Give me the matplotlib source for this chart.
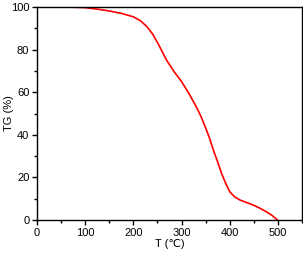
import matplotlib.pyplot as plt
from matplotlib.ticker import MultipleLocator

plt.rcParams['font.family'] = ['Liberation Sans', 'DejaVu Sans']

temp = [48, 75, 100, 125, 151, 175, 200, 215, 228, 240, 252, 269, 285, 300, 315, 331, 340, 349,
        358, 366, 375, 383, 392, 400, 410, 421, 435, 449, 462, 476, 488, 499]
tg = [100, 99.9, 99.7, 99.0, 98.1, 97.0, 95.4, 93.5, 90.8, 87.3, 82.5, 75, 69.5, 65, 59.5, 53,
      48.8, 43.8, 38.5, 32.9, 27.2, 21.9, 17, 13.3, 10.9, 9.4, 8.2, 7, 5.6, 3.9, 2.1, 0]

fig = plt.figure(figsize=(3.03, 2.54), dpi=100)
ax = fig.add_axes([37 / 303, 34 / 254, 265 / 303, 213 / 254])
ax.plot(temp, tg, color='red', lw=1.2)

ax.set_xlim(0, 550)
ax.set_ylim(0, 100)
ax.xaxis.set_major_locator(MultipleLocator(100))
ax.xaxis.set_minor_locator(MultipleLocator(50))
ax.yaxis.set_major_locator(MultipleLocator(20))
ax.yaxis.set_minor_locator(MultipleLocator(10))
ax.tick_params(which='both', direction='out', labelsize=8, width=1)
ax.tick_params(which='major', length=3.5, pad=2)
ax.tick_params(which='minor', length=2)
for s in ax.spines.values():
    s.set_linewidth(1)

ax.set_xlabel('T (℃)', fontsize=8, labelpad=1)
ax.set_ylabel('TG (%)', fontsize=8)
ax.yaxis.set_label_coords(-23 / 265, 0.5)

fig.savefig('out.png', dpi=100)
